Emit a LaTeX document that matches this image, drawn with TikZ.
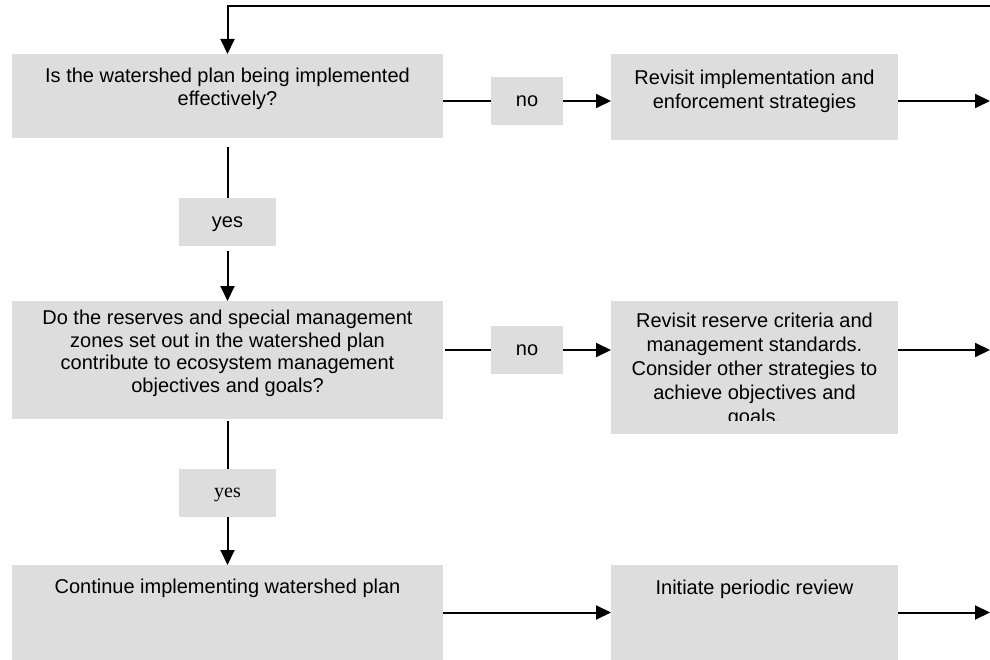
\documentclass[tikz,border=0pt]{standalone}
\usepackage{fontspec}
\setmainfont{Liberation Sans}
\newfontfamily\serifyes{Liberation Serif}
\usetikzlibrary{arrows.meta}
\definecolor{boxgray}{RGB}{221,221,221}
\tikzset{
  boxnode/.style={fill=boxgray, draw=none, inner sep=0pt, outer sep=0pt},
  txt/.style={inner sep=0pt, outer sep=0pt, align=center, font=\fontsize{20}{22.5}\selectfont},
  txtr/.style={txt, font=\fontsize{20}{24}\selectfont},
  conn/.style={line width=2pt, draw=black},
  arr/.style={conn, -{Triangle[length=15pt,width=14pt]}}
}
\begin{document}
\begin{tikzpicture}[x=1pt, y=-1pt]
\useasboundingbox (0,0) rectangle (990,660);

% boxes
\node[boxnode, minimum width=431pt, minimum height=84pt] (q1) at (227.5,96) {};
\node[boxnode, minimum width=287pt, minimum height=86pt] (a1) at (754.5,97) {};
\node[boxnode, minimum width=431pt, minimum height=118pt] (q2) at (227.5,360) {};
\node[boxnode, minimum width=287pt, minimum height=133pt] (a2) at (754.5,367.5) {};
\node[boxnode, minimum width=431pt, minimum height=95pt] (c) at (227.5,612.5) {};
\node[boxnode, minimum width=287pt, minimum height=95pt] (r) at (754.5,612.5) {};

% small label boxes
\node[boxnode, txt, minimum width=72pt, minimum height=48pt, text height=10.4pt, text depth=0pt] (n1) at (527,101) {no};
\node[boxnode, txt, minimum width=72pt, minimum height=48pt, text height=10.4pt, text depth=0pt] (n2) at (527,350) {no};
\node[boxnode, txt, minimum width=97pt, minimum height=48pt, text height=10.4pt, text depth=0pt] (y1) at (227.5,222) {yes};
\node[boxnode, txt, font=\serifyes\fontsize{20}{22.5}\selectfont, minimum width=97pt, minimum height=48pt, text height=9pt, text depth=0pt] (y2) at (227.5,493) {yes};

% texts
\node[txt, anchor=north] (q1t) at (227.5,68.4) {Is the watershed plan being implemented\\effectively?};
\node[txtr, anchor=north] (a1t) at (754.5,70.4) {Revisit implementation and\\enforcement strategies};
\node[txt, anchor=north] (q2t) at (227.5,310.4) {Do the reserves and special management\\zones set out in the watershed plan\\contribute to ecosystem management\\objectives and goals?};
\begin{scope}
\clip (611,301) rectangle (898,420);
\node[txtr, anchor=north] (a2t) at (754.5,313.4) {Revisit reserve criteria and\\management standards.\\Consider other strategies to\\achieve objectives and\\goals.};
\end{scope}
\node[txt, anchor=base] (ct) at (227.5,593) {Continue implementing watershed plan};
\node[txt, anchor=base] (rt) at (754.5,594) {Initiate periodic review};

% free ends
\coordinate (fb) at (990,6);
\coordinate (e1) at (990,101);
\coordinate (e2) at (990,350);
\coordinate (e3) at (990,612.5);

% connectors
\draw[arr] (fb) -| (q1.north);
\draw[conn] (q1.east |- n1.west) -- (n1.west);
\draw[arr] (n1.east) -- (a1.west |- n1.east);
\draw[arr] (a1.east |- n1.east) -- (e1);

\draw[conn, shorten <=9pt] (q1.south) -- (y1.north);
\draw[arr, shorten <=5pt] (y1.south) -- (q2.north);

\draw[conn, shorten <=2pt] (q2.east |- n2.west) -- (n2.west);
\draw[arr] (n2.east) -- (a2.west |- n2.east);
\draw[arr] (a2.east |- n2.east) -- (e2);

\draw[conn, shorten <=2pt] (q2.south) -- (y2.north);
\draw[arr] (y2.south) -- (c.north);

\draw[arr] (c.east) -- (r.west);
\draw[arr] (r.east) -- (e3);
\end{tikzpicture}
\end{document}
